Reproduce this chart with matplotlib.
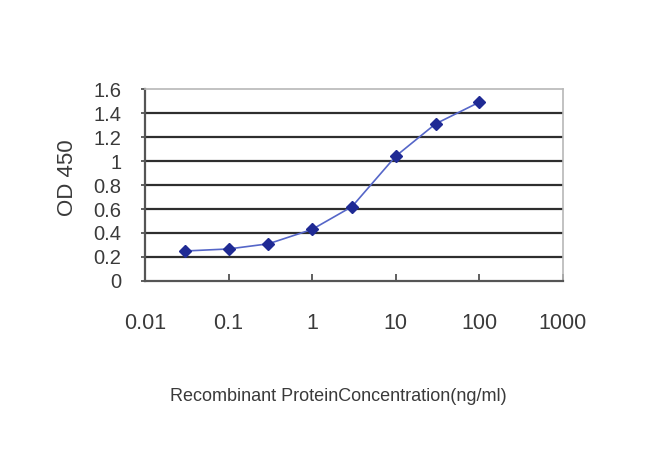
import numpy as np
import matplotlib
matplotlib.use("Agg")
import matplotlib.pyplot as plt
from matplotlib.ticker import FixedLocator, FixedFormatter, NullLocator

# data
concentration = [0.03, 0.1, 0.3, 1, 3, 10, 30, 100]
od450 = [0.25, 0.267, 0.31, 0.43, 0.62, 1.04, 1.31, 1.49]

x_ticks = [0.01, 0.1, 1, 10, 100, 1000]
x_tick_labels = ["0.01", "0.1", "1", "10", "100", "1000"]
y_ticks = [0, 0.2, 0.4, 0.6, 0.8, 1.0, 1.2, 1.4, 1.6]
y_tick_labels = ["0", "0.2", "0.4", "0.6", "0.8", "1", "1.2", "1.4", "1.6"]

font = ["Liberation Sans", "DejaVu Sans"]
text_color = "#3a3a3a"

fig = plt.figure(figsize=(6.5, 4.66), dpi=100)
ax = fig.add_axes([0.223, 0.397, 0.643, 0.412])

ax.set_xscale("log")
ax.set_xlim(0.01, 1000)
ax.set_ylim(0, 1.6)

# horizontal grid lines
for yv in y_ticks[1:-1]:
    ax.axhline(yv, color="#2e2e2e", lw=1.6, zorder=1)

ax.plot(concentration, od450, color="#5566c8", lw=1.2, zorder=3)
ax.plot(concentration, od450, ls="none", marker="D", ms=6.5,
        color="#1f2a94", mec="#1f2a94", zorder=4)

for side in ["top", "right"]:
    ax.spines[side].set_color("#b8b8b8")
    ax.spines[side].set_linewidth(1.2)
for side in ["left", "bottom"]:
    ax.spines[side].set_color("#555555")
    ax.spines[side].set_linewidth(1.6)

ax.xaxis.set_major_locator(FixedLocator(x_ticks))
ax.xaxis.set_major_formatter(FixedFormatter(x_tick_labels))
ax.xaxis.set_minor_locator(NullLocator())
ax.yaxis.set_major_locator(FixedLocator(y_ticks))
ax.yaxis.set_major_formatter(FixedFormatter(y_tick_labels))

ax.tick_params(axis="x", direction="in", length=5, width=1.2, color="#444444",
               pad=23, labelsize=15.5, labelcolor=text_color)
ax.tick_params(axis="y", direction="out", length=3, width=1.2, color="#444444",
               pad=14, labelsize=14.5, labelcolor=text_color)
for lab in ax.get_xticklabels() + ax.get_yticklabels():
    lab.set_family(font)

ax.set_xlabel("Recombinant ProteinConcentration(ng/ml)", fontsize=13,
              color=text_color, family=font)
ax.xaxis.set_label_coords(0.462, -0.557)
ax.set_ylabel("OD 450", fontsize=16, color=text_color, family=font)
ax.yaxis.set_label_coords(-0.16, 0.54)

fig.savefig("out.png", dpi=100)
